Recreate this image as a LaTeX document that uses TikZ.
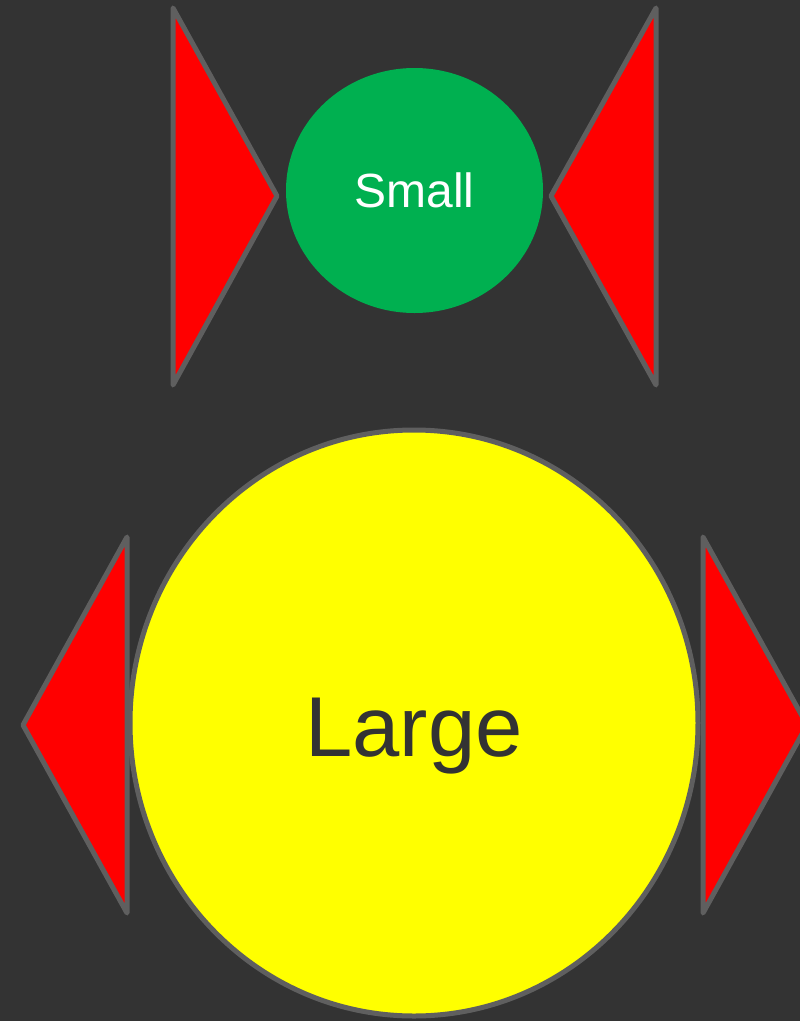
\documentclass[tikz,border=0pt]{standalone}
\usepackage{fontspec}
\setmainfont{Liberation Sans}
\usepackage{tikz}
\usetikzlibrary{shapes.geometric}
\definecolor{darkbg}{HTML}{333333}
\definecolor{edgegray}{HTML}{5F5F5F}
\definecolor{smallgreen}{HTML}{00B050}
\definecolor{largeyellow}{HTML}{FFFF00}
\definecolor{flagred}{HTML}{FF0000}

\begin{document}
\begin{tikzpicture}[
  x=1pt,y=-1pt,
  flag/.style={draw=edgegray,fill=flagred,line width=5pt,line join=round},
  blob/.style={ellipse,inner sep=0pt,align=center,text depth=0pt}
]
\fill[darkbg] (0,0) rectangle (800,1021);
\clip (0,0) rectangle (800,1021);
% upper pair
\node[blob,fill=smallgreen,minimum width=257pt,minimum height=245pt,text=white,font=\fontsize{48}{52}\selectfont] (small) at (414.5,190.5) {Small};
\draw[flag] (173,8) -- (173,385) -- (277,196) -- cycle;
\draw[flag] (656,8) -- (656,385) -- (551,196) -- cycle;
% lower pair
\node[blob,draw=edgegray,line width=5pt,fill=largeyellow,minimum width=568pt,minimum height=586pt,text=darkbg,font=\fontsize{85}{90}\selectfont] (large) at (414,723) {};
\node[text=darkbg,font=\fontsize{85}{90}\selectfont,inner sep=0pt,anchor=base] (largetext) at (414,756) {Large};
\draw[flag] (127,537) -- (127,913) -- (23,725) -- cycle;
\draw[flag] (703,537) -- (703,913) -- (807,725) -- cycle;
\end{tikzpicture}
\end{document}
